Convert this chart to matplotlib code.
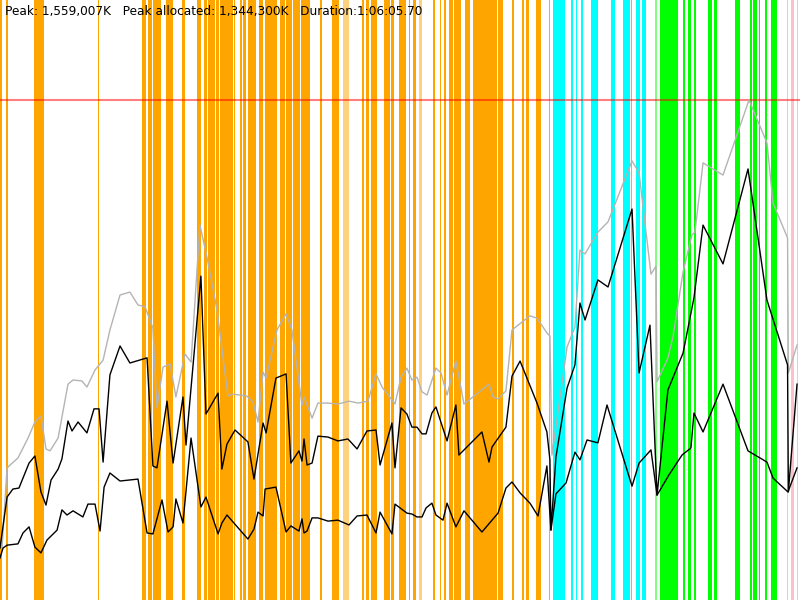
import matplotlib
matplotlib.use("Agg")
from matplotlib import pyplot as plt

# time in seconds, memory in MB (thousands of K)
duration = 3965.7
peak_total = 1559.007
peak_alloc = 1344.300

heap_t = [10, 35, 89, 139, 173, 203, 228, 248, 288, 337, 362, 406, 431, 471, 511, 545, 595, 644, 684, 719,
          758, 778, 808, 843, 872, 917, 947, 991, 1026, 1076, 1105, 1130, 1155, 1224, 1254, 1279, 1304, 1319,
          1373, 1418, 1447, 1497, 1507, 1547, 1576, 1626, 1675, 1730, 1775, 1824, 1864, 1894, 1958, 1988, 2017,
          2042, 2067, 2092, 2117, 2161, 2186, 2216, 2260, 2300, 2424, 2444, 2469, 2508, 2538, 2627, 2662, 2711,
          2726, 2736, 2811, 2850, 2875, 2900, 2964, 3014, 3133, 3168, 3227, 3252, 3257, 3311, 3336, 3386, 3430,
          3445, 3485, 3584, 3713, 3802, 3832, 3904, 3908, 3951]
heap_mb = [162, 412, 443, 505, 555, 574, 471, 465, 505, 673, 686, 683, 664, 717, 748, 842, 951, 960, 920, 914,
           848, 599, 726, 736, 633, 767, 742, 1169, 1069, 904, 758, 636, 642, 636, 617, 555, 711, 692,
           842, 892, 842, 608, 633, 567, 614, 614, 611, 620, 614, 620, 705, 664, 611, 695, 723,
           686, 695, 649, 639, 723, 708, 639, 745, 611, 673, 633, 627, 652, 842, 886, 879, 833,
           823, 452, 789, 851, 1091, 1079, 1147, 1179, 1369, 1331, 1016, 1041, 680, 755, 820, 1023, 1138,
           1147, 1363, 1325, 1559, 1425, 1238, 1129, 708, 795]

alloc_t = [0, 35, 64, 94, 144, 173, 203, 228, 253, 288, 307, 337, 357, 387, 431, 466, 491, 511, 545, 595,
           644, 729, 758, 778, 828, 858, 907, 922, 996, 1021, 1081, 1100, 1125, 1165, 1229, 1259, 1304, 1319,
           1368, 1418, 1442, 1482, 1497, 1507, 1522, 1547, 1576, 1626, 1675, 1725, 1770, 1819, 1864, 1884,
           1943, 1958, 1988, 2017, 2042, 2067, 2092, 2112, 2141, 2161, 2216, 2260, 2275, 2389, 2424, 2439,
           2508, 2538, 2578, 2662, 2711, 2726, 2731, 2756, 2811, 2850, 2875, 2900, 2964, 3014, 3133, 3168,
           3222, 3257, 3311, 3386, 3440, 3485, 3584, 3708, 3802, 3904, 3908, 3951]
alloc_mb = [162, 321, 346, 349, 427, 449, 337, 296, 374, 408, 440, 558, 527, 555, 521, 596, 596, 430, 702, 792,
            739, 755, 418, 412, 620, 427, 633, 483, 1010, 580, 645, 408, 486, 530, 493, 377, 552, 521,
            692, 705, 427, 465, 433, 502, 421, 427, 511, 508, 496, 502, 471, 527, 530, 421,
            552, 412, 599, 580, 539, 539, 518, 518, 583, 602, 496, 608, 452, 524, 430, 477,
            539, 698, 745, 614, 524, 437, 218, 446, 661, 733, 926, 873, 998, 976, 1219, 708,
            857, 327, 655, 770, 942, 1169, 1048, 1344, 935, 733, 337, 673]

live_t = [0, 15, 35, 89, 114, 144, 173, 203, 233, 283, 307, 332, 362, 411, 436, 471, 496, 516, 545, 595,
          684, 729, 758, 803, 833, 858, 872, 907, 947, 996, 1021, 1081, 1100, 1125, 1229, 1259, 1279, 1304,
          1314, 1368, 1418, 1442, 1482, 1497, 1507, 1522, 1547, 1576, 1626, 1675, 1730, 1770, 1819, 1864,
          1884, 1943, 1958, 2017, 2042, 2067, 2092, 2112, 2141, 2161, 2196, 2216, 2260, 2300, 2389, 2469,
          2508, 2538, 2578, 2627, 2667, 2711, 2731, 2756, 2806, 2850, 2875, 2910, 2964, 3009, 3133, 3168,
          3227, 3257, 3316, 3381, 3425, 3440, 3485, 3584, 3708, 3802, 3832, 3906, 3951]
live_mb = [131, 162, 171, 175, 209, 228, 165, 147, 187, 218, 281, 265, 278, 259, 299, 299, 215, 352, 396, 371,
           377, 209, 206, 312, 212, 228, 315, 240, 505, 290, 321, 206, 240, 265, 190, 221, 274, 262,
           346, 352, 212, 231, 215, 253, 209, 215, 256, 256, 246, 249, 234, 262, 265, 209,
           274, 206, 299, 271, 268, 259, 259, 287, 302, 265, 249, 302, 228, 278, 212, 271,
           349, 368, 334, 302, 262, 418, 218, 331, 365, 461, 437, 499, 490, 608, 355, 427,
           468, 327, 390, 452, 474, 583, 524, 673, 465, 430, 380, 337, 412]

gc_orange = [(0, 10), (30, 40), (169, 218), (484, 489), (704, 724), (734, 753), (758, 798), (823, 858),
             (902, 917), (977, 996), (1011, 1026), (1031, 1066), (1071, 1086), (1091, 1155), (1160, 1165),
             (1190, 1200), (1205, 1219), (1229, 1269), (1284, 1304), (1314, 1373), (1388, 1413), (1418, 1447),
             (1452, 1487), (1492, 1537), (1586, 1596), (1646, 1680), (1794, 1804), (1814, 1829), (1839, 1869),
             (1903, 1933), (1938, 1953), (1978, 2013), (2027, 2032), (2047, 2062), (2146, 2156), (2181, 2186),
             (2201, 2211), (2226, 2246), (2250, 2285), (2305, 2330), (2345, 2464), (2469, 2493), (2538, 2548),
             (2588, 2597), (2607, 2622), (2657, 2682)]
gc_cyan = [(2721, 2726), (2741, 2801), (2830, 2840), (2855, 2860), (2880, 2890), (2930, 2964), (3029, 3049),
           (3088, 3123), (3128, 3133), (3153, 3172), (3182, 3202)]
gc_green = [(3272, 3361), (3386, 3396), (3410, 3425), (3440, 3450), (3510, 3529), (3539, 3554), (3643, 3668),
            (3718, 3728), (3733, 3753), (3762, 3767), (3792, 3802), (3822, 3852)]
gc_pink = [(3901, 3906), (3921, 3936), (3951, 3956)]
gc_faint = [((1700, 1730), "orange"), ((2077, 2092), "orange"), ((3247, 3257), "lime")]

fig = plt.figure(figsize=(8, 6), dpi=100)
ax = fig.add_axes([0, 0, 1, 1])

for spans, col in [(gc_orange, "orange"), (gc_cyan, "cyan"), (gc_green, "lime"), (gc_pink, "pink")]:
    for s, e in spans:
        ax.axvspan(s, e, color=col, lw=0)
for (s, e), col in gc_faint:
    ax.axvspan(s, e, color=col, alpha=0.5, lw=0)

ax.axhline(peak_total, color="red", alpha=0.5, lw=1.5)

ax.plot(heap_t, heap_mb, color="#b4b4b4", lw=1)
ax.plot(alloc_t, alloc_mb, color="black", lw=1)
ax.plot(live_t, live_mb, color="black", lw=1)

# header text sits 5px in from the left edge
ax.text(0.006, 0.98, "Peak: 1,559,007K   Peak allocated: 1,344,300K   Duration:1:06:05.70",
        transform=ax.transAxes, fontsize=8.7, va="center", ha="left", family="DejaVu Sans")

ax.set_xlim(0, duration)
ax.set_ylim(0, 600 * peak_total / 500)
plt.axis("off")
fig.savefig("out.png", dpi=100)
